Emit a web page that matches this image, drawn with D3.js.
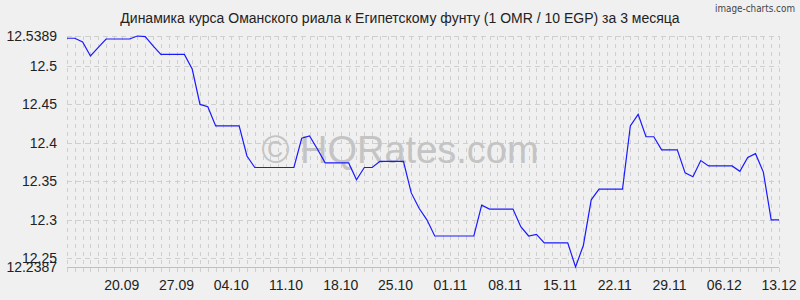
<!DOCTYPE html>
<html>
<head>
<meta charset="utf-8">
<script src="https://cdn.jsdelivr.net/npm/d3@7"></script>
<style>
  body { margin: 0; background: #f0f0f0; }
  svg { display: block; font-family: "Liberation Sans", Arial, sans-serif; }
</style>
</head>
<body>
<svg id="chart" width="800" height="300"></svg>
<script>
// Daily OMR/EGP rate, 13.09 - 13.12
const startDate = '2024-09-13';
const rates = [
  12.536, 12.536, 12.531, 12.513, 12.524, 12.535, 12.535, 12.535, 12.535, 12.5389,
  12.538, 12.526, 12.515, 12.515, 12.515, 12.515, 12.496, 12.450, 12.447, 12.422,
  12.422, 12.422, 12.422, 12.383, 12.368, 12.368, 12.368, 12.368, 12.368, 12.368,
  12.406, 12.409, 12.392, 12.374, 12.374, 12.374, 12.374, 12.352, 12.368, 12.368,
  12.376, 12.376, 12.376, 12.376, 12.335, 12.315, 12.300, 12.279, 12.279, 12.279,
  12.279, 12.279, 12.279, 12.319, 12.314, 12.314, 12.314, 12.314, 12.291, 12.279,
  12.281, 12.270, 12.270, 12.270, 12.270, 12.2387, 12.267, 12.326, 12.340, 12.340,
  12.340, 12.340, 12.422, 12.437, 12.408, 12.408, 12.391, 12.391, 12.391, 12.361,
  12.356, 12.377, 12.370, 12.370, 12.370, 12.370, 12.363, 12.381, 12.386, 12.362,
  12.300, 12.300
];
const yTicks = [12.2387, 12.25, 12.3, 12.35, 12.4, 12.45, 12.5, 12.5389];
const xTickDates = ['2024-09-20', '2024-09-27', '2024-10-04', '2024-10-11', '2024-10-18',
  '2024-10-25', '2024-11-01', '2024-11-08', '2024-11-15', '2024-11-22',
  '2024-11-29', '2024-12-06', '2024-12-13'];
const title = 'Динамика курса Оманского риала к Египетскому фунту (1 OMR / 10 EGP) за 3 месяца';

const parse = d3.timeParse('%Y-%m-%d');
const t0 = parse(startDate);
const points = rates.map((v, i) => ({ date: d3.timeDay.offset(t0, i), value: v }));

const plotLeft = 67, plotRight = 779, plotTop = 36, plotBottom = 267;

const x = d3.scaleTime()
  .domain(d3.extent(points, d => d.date))
  .range([plotLeft, plotRight]);
const y = d3.scaleLinear()
  .domain([12.2387, 12.5389])
  .range([plotBottom, plotTop]);

const svg = d3.select('#chart');

svg.append('rect').attr('width', 800).attr('height', 300).attr('fill', '#f0f0f0');

// grid: vertical line every day
const days = d3.timeDay.range(x.domain()[0], d3.timeDay.offset(x.domain()[1], 1));
svg.append('g')
  .selectAll('line')
  .data(days)
  .join('line')
  .attr('x1', d => Math.round(x(d)) + 0.5)
  .attr('x2', d => Math.round(x(d)) + 0.5)
  .attr('y1', plotTop)
  .attr('y2', plotBottom + 8)
  .attr('stroke', '#cfcfcf')
  .attr('stroke-dasharray', '4,4');

// horizontal grid
svg.append('g')
  .selectAll('line')
  .data(yTicks)
  .join('line')
  .attr('x1', plotLeft)
  .attr('x2', plotRight)
  .attr('y1', d => Math.round(y(d)) + 0.5)
  .attr('y2', d => Math.round(y(d)) + 0.5)
  .attr('stroke', (d, i) => i === 0 ? '#c0c0c0' : '#cfcfcf')
  .attr('stroke-dasharray', (d, i) => i === 0 ? null : '5,4');

// watermark
svg.append('text')
  .attr('x', 400)
  .attr('y', 163)
  .attr('text-anchor', 'middle')
  .style('font-size', '38px')
  .attr('fill', '#c4c4c4')
  .text('© HQRates.com');

// line
const line = d3.line()
  .x(d => x(d.date))
  .y(d => y(d.value));

svg.append('path')
  .datum(points)
  .attr('d', line)
  .attr('fill', 'none')
  .attr('stroke', '#1a1aff')
  .attr('stroke-width', 1.2);

// y labels
svg.append('g')
  .selectAll('text')
  .data(yTicks)
  .join('text')
  .attr('x', 57)
  .attr('y', d => y(d))
  .attr('dy', '0.35em')
  .attr('text-anchor', 'end')
  .style('font-size', '14px')
  .attr('fill', '#222')
  .text(d => d);

// x labels
svg.append('g')
  .selectAll('text')
  .data(xTickDates.map(parse))
  .join('text')
  .attr('x', d => x(d))
  .attr('y', 290)
  .attr('text-anchor', 'middle')
  .style('font-size', '14px')
  .attr('fill', '#222')
  .text(d3.timeFormat('%d.%m'));

// title
svg.append('text')
  .attr('x', 400)
  .attr('y', 23)
  .attr('text-anchor', 'middle')
  .style('font-size', '14px')
  .attr('fill', '#222')
  .text(title);

svg.append('text')
  .attr('x', 795)
  .attr('y', 12)
  .attr('text-anchor', 'end')
  .attr('textLength', 80)
  .attr('lengthAdjust', 'spacingAndGlyphs')
  .style('font-family', '"DejaVu Sans Condensed", sans-serif')
  .style('font-size', '10px')
  .attr('fill', '#444')
  .text('image-charts.com');
</script>
</body>
</html>
